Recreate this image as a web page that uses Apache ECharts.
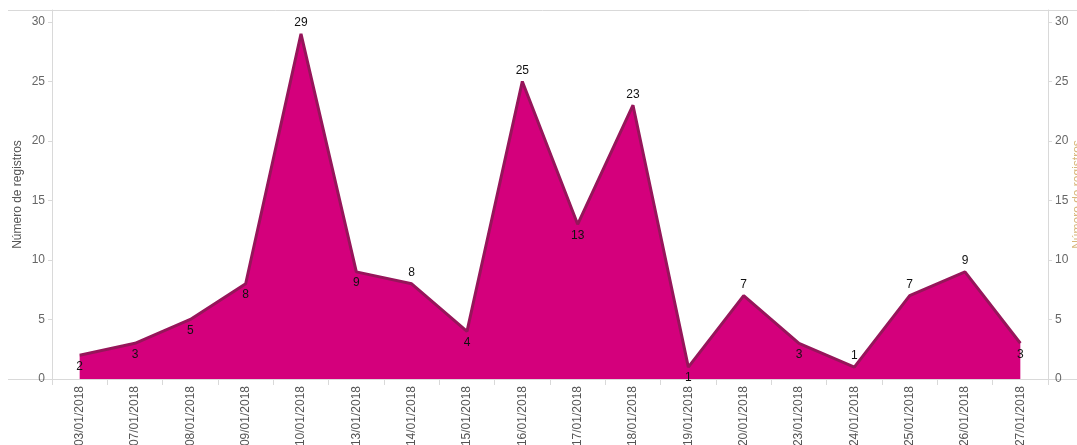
<!DOCTYPE html>
<html>
<head>
<meta charset="utf-8">
<script src="https://cdn.jsdelivr.net/npm/echarts@6/dist/echarts.min.js"></script>
<style>
html,body{margin:0;padding:0;background:#fff;}
#chart{width:1077px;height:445px;}
</style>
</head>
<body>
<div id="chart"></div>
<script>
var categories = ['03/01/2018','07/01/2018','08/01/2018','09/01/2018','10/01/2018','13/01/2018','14/01/2018','15/01/2018','16/01/2018','17/01/2018','18/01/2018','19/01/2018','20/01/2018','23/01/2018','24/01/2018','25/01/2018','26/01/2018','27/01/2018'];
var registros = [2,3,5,8,29,9,8,4,25,13,23,1,7,3,1,7,9,3];
var labelSide = ['bottom','bottom','bottom','bottom','top','bottom','top','bottom','top','bottom','top','bottom','top','bottom','top','top','top','bottom'];
var yTicks = [0,5,10,15,20,25,30];
var axisName = 'Número de registros';

var chart = echarts.init(document.getElementById('chart'), null, {renderer:'canvas'});
var font = 'Liberation Sans, Arial, sans-serif';
var data = registros.map(function(v,i){
  return {value:v, label:{position:labelSide[i]}};
});
var yAxisBase = {
  type:'value', min:0, max:31, interval:5,
  axisLine:{show:true, lineStyle:{color:'#d9d9d9', width:1}},
  axisTick:{show:true, length:4, lineStyle:{color:'#d9d9d9'}},
  splitLine:{show:false},
  axisLabel:{color:'#666', fontSize:12, fontFamily:font, margin:7, showMaxLabel:false,
    formatter:function(v){ return yTicks.indexOf(v)>=0 ? String(v) : ''; }},
  nameLocation:'middle', nameTextStyle:{fontSize:12, fontFamily:font}
};
chart.setOption({
  animation:false,
  grid:{left:52, right:29, top:10, bottom:66, containLabel:false, outerBoundsMode:'none'},
  xAxis:{
    type:'category', data:categories, boundaryGap:true,
    axisLine:{show:true, lineStyle:{color:'#d9d9d9'}},
    axisTick:{show:true, length:6, lineStyle:{color:'#d9d9d9'}},
    axisLabel:{rotate:90, color:'#555', fontSize:12, fontFamily:font, margin:7, interval:0}
  },
  yAxis:[
    Object.assign({}, yAxisBase, {position:'left', name:axisName, nameGap:28, nameMoveOverlap:false,
      nameTextStyle:{fontSize:12, fontFamily:font, color:'#555'}}),
    Object.assign({}, yAxisBase, {position:'right', name:axisName, nameGap:24, nameMoveOverlap:false,
      nameTextStyle:{fontSize:12, fontFamily:font, color:'#d8b77c'}})
  ],
  graphic:[
    {type:'line', shape:{x1:8, y1:10.5, x2:1077, y2:10.5}, style:{stroke:'#d9d9d9', lineWidth:1}, z:0},
    {type:'line', shape:{x1:8, y1:379.5, x2:1077, y2:379.5}, style:{stroke:'#d9d9d9', lineWidth:1}, z:0}
  ],
  series:[{
    type:'line', data:data, yAxisIndex:0,
    symbol:'circle', symbolSize:0, showSymbol:true,
    lineStyle:{color:'#96155a', width:3},
    itemStyle:{color:'#96155a'},
    areaStyle:{color:'#d4007c', opacity:1},
    label:{show:true, fontSize:12, fontFamily:font, color:'#111', distance:5},
    emphasis:{disabled:true}
  }]
});
</script>
</body>
</html>
